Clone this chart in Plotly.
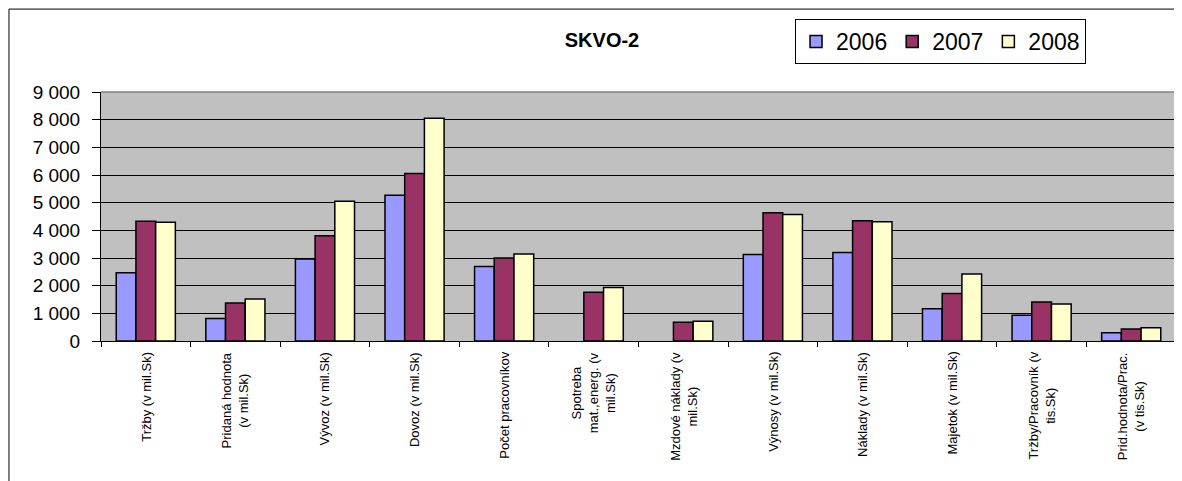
import plotly.graph_objects as go

categories = [
    "Tržby (v mil.Sk)",
    "Pridaná hodnota<br>(v mil.Sk)",
    "Vývoz (v mil.Sk)",
    "Dovoz (v mil.Sk)",
    "Počet pracovníkov",
    "Spotreba<br>mat.,energ. (v<br>mil.Sk)",
    "Mzdové náklady (v<br>mil.Sk)",
    "Výnosy (v mil.Sk)",
    "Náklady (v mil.Sk)",
    "Majetok (v mil.Sk)",
    "Tržby/Pracovník (v<br>tis.Sk)",
    "Prid.hodnota/Prac.<br>(v tis.Sk)",
]
cat_ids = [f"c{i}" for i in range(len(categories))]

years = ["2006", "2007", "2008"]
values_2006 = [2470, 810, 2960, 5270, 2690, None, None, 3130, 3200, 1170, 930, 300]
values_2007 = [4330, 1370, 3800, 6050, 3000, 1760, 675, 4640, 4350, 1720, 1410, 435]
values_2008 = [4290, 1520, 5050, 8050, 3145, 1930, 710, 4570, 4310, 2420, 1340, 480]
series = [values_2006, values_2007, values_2008]
colors = ["#9999FF", "#993366", "#FFFFCC"]

FONT = "Arial, Liberation Sans, sans-serif"
W, H = 1174, 473  # page body has an 8px margin

fig = go.Figure()
for name, vals, col in zip(years, series, colors):
    fig.add_trace(go.Bar(
        x=cat_ids, y=vals, name=name,
        marker=dict(color=col, line=dict(color="black", width=1.5)),
    ))

# category labels (centered multi-line, rotated)
for cid, lab in zip(cat_ids, categories):
    fig.add_annotation(
        x=cid, y=0, xref="x", yref="y", text=lab, textangle=-90,
        showarrow=False, xanchor="center", yanchor="top", yshift=-9,
        align="center", font=dict(family=FONT, size=13, color="black"),
    )

# plot-area border (top/right gray)
fig.add_shape(type="line", xref="paper", yref="paper", x0=0, x1=1, y0=1, y1=1,
              line=dict(color="#808080", width=1.5), layer="above")
fig.add_shape(type="line", xref="paper", yref="paper", x0=1, x1=1, y0=0, y1=1,
              line=dict(color="#808080", width=1.5), layer="above")
# outer chart frame
fig.add_shape(type="rect", xref="paper", yref="paper",
              x0=-0.0856, x1=1.2, y0=-1.0, y1=1.333,
              line=dict(color="black", width=1), layer="below")

fig.update_layout(
    width=W, height=H,
    margin=dict(l=93, r=6, t=84, b=140),
    paper_bgcolor="white", plot_bgcolor="#C0C0C0",
    separators=", ",
    barmode="group", bargap=0.34, bargroupgap=0,
    font=dict(family=FONT, color="black"),
    title=dict(text="<b>SKVO-2</b>", x=(602 - 8) / W, xanchor="center",
               y=1 - (40 - 8) / H, yanchor="middle",
               font=dict(family=FONT, size=20, color="black")),
    legend=dict(orientation="h", x=0.6456, y=1.293, xanchor="left", yanchor="top",
                bordercolor="black", borderwidth=1, bgcolor="white",
                font=dict(family=FONT, size=23, color="black"),
                traceorder="normal"),
    showlegend=True,
)
fig.update_xaxes(
    type="category", showticklabels=False, ticks="outside", tickson="boundaries",
    ticklen=5, tickcolor="black", showline=True, linecolor="black", linewidth=1,
    showgrid=False, zeroline=False,
)
fig.update_yaxes(
    range=[0, 9000], dtick=1000, tick0=0, separatethousands=True, tickformat=",d",
    ticks="outside", ticklen=8, tickcolor="black", ticklabelstandoff=8,
    showline=True, linecolor="black", linewidth=1,
    showgrid=True, gridcolor="black", gridwidth=1, zeroline=False,
    tickfont=dict(family=FONT, size=19, color="black"),
)

fig.write_html("out.html")
